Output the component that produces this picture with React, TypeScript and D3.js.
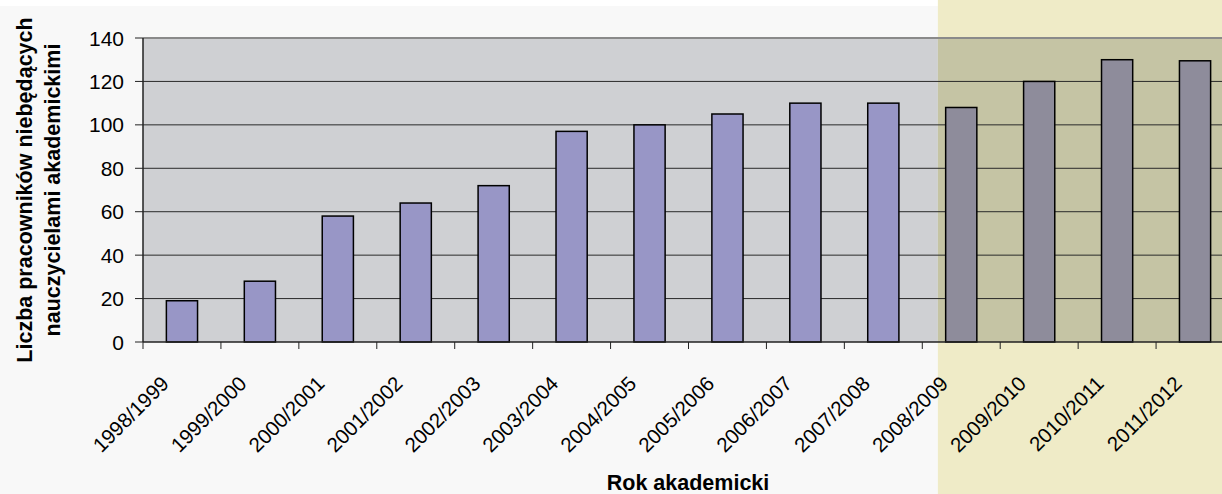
import React from "react";
import * as d3 from "d3";

const categories = [
  "1998/1999", "1999/2000", "2000/2001", "2001/2002", "2002/2003", "2003/2004", "2004/2005",
  "2005/2006", "2006/2007", "2007/2008", "2008/2009", "2009/2010", "2010/2011", "2011/2012",
];
const values = [19, 28, 58, 64, 72, 97, 100, 105, 110, 110, 108, 120, 130, 129.5];
const yTicks = [0, 20, 40, 60, 80, 100, 120, 140];
const highlightFrom = "2008/2009";
const yTitleLines = ["Liczba pracowników niebędących", "nauczycielami akademickimi"];
const xTitle = "Rok akademicki";

const W = 1222;
const H = 494;
const M = { left: 143, right: 1234, top: 38, bottom: 342 };

export default function App() {
  const x = d3.scaleBand<string>().domain(categories).range([M.left, M.right]).paddingInner(0).paddingOuter(0);
  const y = d3.scaleLinear().domain([0, 140]).range([M.bottom, M.top]);
  const bw = x.bandwidth();
  const barW = bw / 2.5;
  const hx = (x(highlightFrom) as number) + bw * 0.2;
  const hIdx = categories.indexOf(highlightFrom);
  const font = "'Liberation Sans', Arial, sans-serif";

  return (
    <svg width={W} height={H} style={{ position: "fixed", left: 0, top: 0, display: "block" }} fontFamily={font}>
      <rect x={0} y={0} width={W} height={H} fill="#f8f8f8" />
      <rect x={0} y={0} width={W} height={6} fill="#ffffff" />
      <rect x={hx} y={0} width={W - hx} height={H} fill="#efebc7" />
      {/* plot area */}
      <rect x={M.left} y={M.top} width={hx - M.left} height={M.bottom - M.top} fill="#cfd0d3" />
      <rect x={hx} y={M.top} width={M.right - hx} height={M.bottom - M.top} fill="#c5c4a4" />
      {/* gridlines */}
      {yTicks.filter((t) => t > 0).map((t) => (
        <line key={t} x1={M.left} x2={M.right} y1={y(t)} y2={y(t)}
          stroke={t === 140 ? "#8a8a8a" : "#2a2a2a"} strokeWidth={t === 140 ? 2 : 1} />
      ))}
      {/* bars */}
      {categories.map((c, i) => {
        const cx = (x(c) as number) + bw / 2;
        return (
          <rect key={c} x={cx - barW / 2} y={y(values[i])} width={barW} height={y(0) - y(values[i])}
            fill={i >= hIdx ? "#8e8c9b" : "#9896c6"} stroke="#000" strokeWidth={1.5} />
        );
      })}
      {/* axes */}
      <line x1={M.left} x2={M.left} y1={M.top} y2={M.bottom} stroke="#222" strokeWidth={1.5} />
      <line x1={M.left} x2={M.right} y1={M.bottom} y2={M.bottom} stroke="#222" strokeWidth={1.5} />
      {yTicks.map((t) => (
        <g key={t}>
          <line x1={M.left - 8} x2={M.left} y1={y(t)} y2={y(t)} stroke="#222" strokeWidth={1} />
          <text x={124} y={y(t)} dy="0.36em" textAnchor="end" fontSize={21} fill="#000">{t}</text>
        </g>
      ))}
      {categories.map((c) => (
        <line key={c} x1={x(c) as number} x2={x(c) as number} y1={M.bottom} y2={M.bottom + 7} stroke="#222" strokeWidth={1} />
      ))}
      {categories.map((c) => {
        const tx = (x(c) as number) + 27;
        return (
          <text key={c} transform={`translate(${tx},385) rotate(-45)`} textAnchor="end" fontSize={20.5} fill="#000">{c}</text>
        );
      })}
      <text x={688} y={490} textAnchor="middle" fontSize={21.5} fontWeight="bold" fill="#000">{xTitle}</text>
      {yTitleLines.map((l, i) => (
        <text key={i} transform={`translate(${32 + i * 28},190) rotate(-90)`} textAnchor="middle" fontSize={21.5} fontWeight="bold" fill="#000">{l}</text>
      ))}
    </svg>
  );
}
